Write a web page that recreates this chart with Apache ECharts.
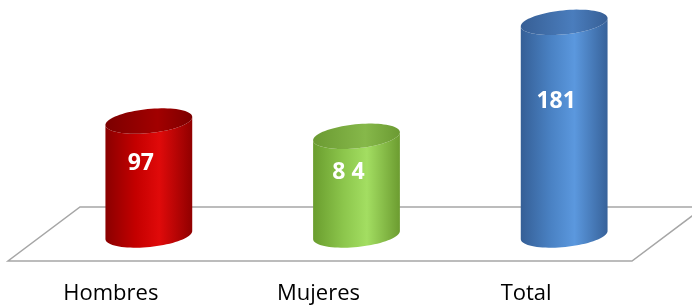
<!DOCTYPE html>
<html>
<head>
<meta charset="utf-8">
<script src="https://cdn.jsdelivr.net/npm/echarts@6/dist/echarts.min.js"></script>
<style>
  html, body { margin: 0; padding: 0; background: #fff; }
  #chart { width: 692px; height: 305px; }
</style>
</head>
<body>
<div id="chart"></div>
<script>
const categories = ['Hombres', 'Mujeres', 'Total'];
const values = [97, 84, 181];
const valueLabels = ['97', '8 4', '181'];

// body gradient (left edge, middle, highlight, right edge) and top cap colours
const bodyColors = [
  ['#8a0000', '#c40000', '#e00a0a', '#900000'],
  ['#6a9d2e', '#8cc64c', '#a3de62', '#6c9c30'],
  ['#355f96', '#4a82c4', '#5b98de', '#37629a']
];
const capColors = [
  ['#7c0000', '#a20000'],
  ['#6b9a32', '#86b84a'],
  ['#375f95', '#4a7dbd']
];

const chart = echarts.init(document.getElementById('chart'));

function ellipsePoint(cx, cy, rx, ry, phi, t) {
  const u = rx * Math.cos(t);
  const v = ry * Math.sin(t);
  return [cx + u * Math.cos(phi) + v * Math.sin(phi), cy - u * Math.sin(phi) + v * Math.cos(phi)];
}

function renderCylinder(params, api) {
  const idx = api.value(0);
  const val = api.value(1);
  const top = api.coord([idx, val]);
  const base = api.coord([idx, 0]);
  const bandW = api.size([1, 0])[0];
  const cx = top[0];
  const rx = bandW * 0.21;
  const ry = 12;
  const phi = 0.1;
  const steps = 40;

  const body = [];
  for (let i = 0; i <= steps; i++) {
    body.push(ellipsePoint(cx, base[1], rx, ry, phi, Math.PI - Math.PI * i / steps));
  }
  for (let i = 0; i <= steps; i++) {
    body.push(ellipsePoint(cx, top[1], rx, ry, phi, Math.PI * i / steps));
  }
  const cap = [];
  for (let i = 0; i < steps * 2; i++) {
    cap.push(ellipsePoint(cx, top[1], rx, ry, phi, Math.PI * i / steps));
  }

  const bc = bodyColors[idx];
  const cc = capColors[idx];
  return {
    type: 'group',
    children: [
      {
        type: 'polygon',
        shape: { points: body },
        style: {
          fill: new echarts.graphic.LinearGradient(0, 0, 1, 0, [
            { offset: 0, color: bc[0] },
            { offset: 0.35, color: bc[1] },
            { offset: 0.62, color: bc[2] },
            { offset: 1, color: bc[3] }
          ])
        }
      },
      {
        type: 'polygon',
        shape: { points: cap },
        style: {
          fill: new echarts.graphic.LinearGradient(0, 0, 1, 0, [
            { offset: 0, color: cc[0] },
            { offset: 0.6, color: cc[1] },
            { offset: 1, color: cc[0] }
          ])
        }
      },
      {
        type: 'text',
        x: cx - 8,
        y: base[1] - (base[1] - top[1]) * 0.63,
        style: {
          text: valueLabels[idx],
          fill: '#fff',
          font: 'bold 23px "Open Sans"',
          align: 'center',
          verticalAlign: 'middle'
        }
      }
    ]
  };
}

chart.setOption({
  animation: false,
  grid: {
    left: 45,
    right: 24,
    top: 0,
    bottom: 68
  },
  graphic: [
    {
      type: 'polygon',
      z: 0,
      shape: { points: [[80, 207], [704, 207], [632, 261], [8, 261]] },
      style: { fill: '#fff', stroke: '#a6a6a6', lineWidth: 1.5 }
    }
  ],
  xAxis: {
    type: 'category',
    data: categories,
    axisLine: { show: false },
    axisTick: { show: false },
    axisLabel: {
      margin: 48,
      color: '#000',
      fontFamily: 'Open Sans',
      fontSize: 22,
      padding: [0, 76, 0, 0]
    }
  },
  yAxis: {
    type: 'value',
    min: 0,
    max: 200,
    show: false
  },
  series: [
    {
      type: 'custom',
      z: 10,
      renderItem: renderCylinder,
      data: values.map((v, i) => [i, v])
    }
  ]
});
</script>
</body>
</html>
